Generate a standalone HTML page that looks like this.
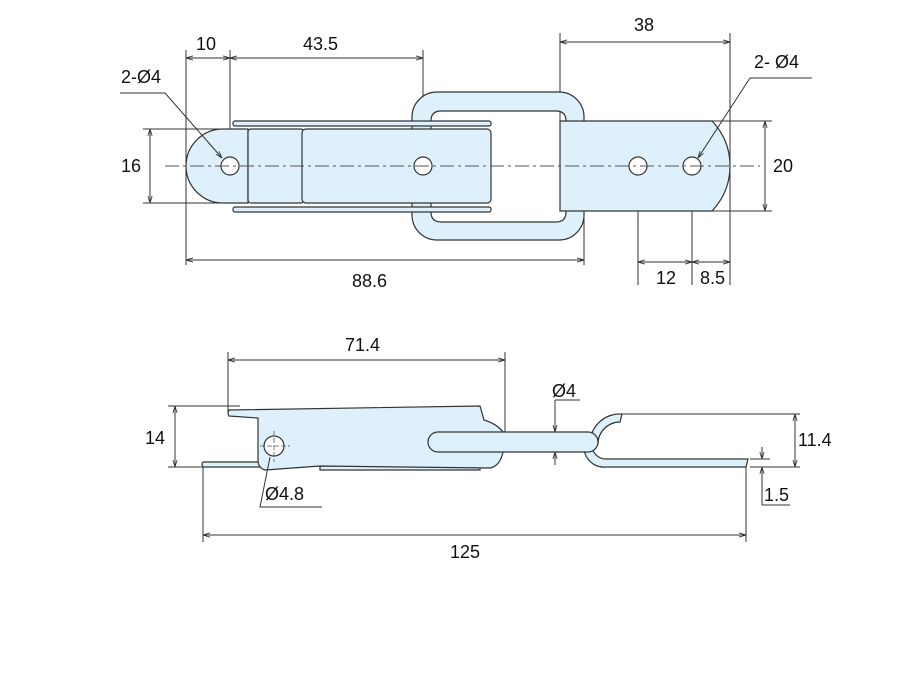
<!DOCTYPE html>
<html><head><meta charset="utf-8"><style>body{margin:0;background:#fff}svg{display:block}text{font-family:"Liberation Sans",sans-serif;font-size:18px;fill:#111}</style></head><body>
<svg width="900" height="673" viewBox="0 0 900 673">
<defs><marker id="a" viewBox="0 0 10 10" refX="10" refY="5" markerWidth="7" markerHeight="7" orient="auto-start-reverse"><path d="M0,2 L10,5 L0,8" fill="none" stroke="#333" stroke-width="1.2"/></marker></defs>
<g stroke="#333" stroke-width="1" fill="none">
<line x1="186" y1="50" x2="186" y2="265"/><line x1="230" y1="50" x2="230" y2="175"/><line x1="423" y1="50" x2="423" y2="175"/>
<line x1="560" y1="33" x2="560" y2="121"/><line x1="730" y1="33" x2="730" y2="285"/>
<line x1="584" y1="210" x2="584" y2="265"/><line x1="638" y1="166" x2="638" y2="285"/><line x1="692" y1="166" x2="692" y2="285"/>
<line x1="143" y1="129" x2="230" y2="129"/><line x1="143" y1="203" x2="230" y2="203"/>
<line x1="712" y1="121" x2="772" y2="121"/><line x1="712" y1="211" x2="772" y2="211"/>
</g>
<g fill="#ddf0fb" stroke="#333" stroke-width="1.2">
<path d="M437,92 H559 A25,25 0 0 1 584,117 V215 A25,25 0 0 1 559,240 H437 A25,25 0 0 1 412,215 V117 A25,25 0 0 1 437,92 Z M441,111 Q431,111 431,121 V212 Q431,222 441,222 H556 Q566,222 566,212 V121 Q566,111 556,111 Z" fill-rule="evenodd"/>
<rect x="233" y="121" width="258" height="5" rx="2"/><rect x="233" y="207" width="258" height="5" rx="2"/>
<path d="M223,129 H248 V203 H223 A37,37 0 0 1 223,129 Z"/>
<rect x="248" y="129" width="56" height="74" rx="3"/>
<rect x="302" y="129" width="189" height="74" rx="4"/>
<path d="M560,121 H712 Q730,140 730,166 Q730,192 712,211 H560 Z"/>
</g>
<g fill="#fff" stroke="#333" stroke-width="1.2"><circle cx="230" cy="166" r="9"/><circle cx="423" cy="166" r="9"/><circle cx="638" cy="166" r="9"/><circle cx="692" cy="166" r="9"/></g>
<line x1="165" y1="166" x2="760" y2="166" stroke="#555" stroke-width="1" stroke-dasharray="14,4,3,4"/>
<g stroke="#333" stroke-width="1" fill="none">
<line x1="186" y1="58" x2="230" y2="58" marker-start="url(#a)" marker-end="url(#a)"/>
<line x1="230" y1="58" x2="423" y2="58" marker-start="url(#a)" marker-end="url(#a)"/>
<line x1="560" y1="42" x2="730" y2="42" marker-start="url(#a)" marker-end="url(#a)"/>
<line x1="150" y1="129" x2="150" y2="203" marker-start="url(#a)" marker-end="url(#a)"/>
<line x1="765" y1="121" x2="765" y2="211" marker-start="url(#a)" marker-end="url(#a)"/>
<line x1="186" y1="260" x2="584" y2="260" marker-start="url(#a)" marker-end="url(#a)"/>
<line x1="638" y1="262" x2="692" y2="262" marker-start="url(#a)" marker-end="url(#a)"/>
<line x1="692" y1="262" x2="730" y2="262" marker-start="url(#a)" marker-end="url(#a)"/>
<polyline points="120,93 165,93 222,158" marker-end="url(#a)"/>
<polyline points="812,78 750,78 698,158" marker-end="url(#a)"/>
</g>
<text x="196" y="50">10</text><text x="303" y="50">43.5</text><text x="634" y="31">38</text>
<text x="121" y="83">2-Ø4</text><text x="754" y="68">2- Ø4</text>
<text x="121" y="172">16</text><text x="773" y="172">20</text>
<text x="352" y="287">88.6</text><text x="656" y="284">12</text><text x="700" y="284">8.5</text>
<g stroke="#333" stroke-width="1" fill="none">
<line x1="228" y1="352" x2="228" y2="412"/><line x1="505" y1="352" x2="505" y2="442"/>
<line x1="168" y1="406" x2="240" y2="406"/><line x1="168" y1="467" x2="205" y2="467"/>
<line x1="203" y1="467" x2="203" y2="542"/><line x1="746" y1="467" x2="746" y2="542"/>
<line x1="620" y1="414" x2="800" y2="414"/><line x1="750" y1="467" x2="800" y2="467"/>
<line x1="555" y1="400" x2="580" y2="400"/>
<line x1="750" y1="459" x2="770" y2="459"/>
</g>
<g fill="#ddf0fb" stroke="#333" stroke-width="1.2">
<path d="M203,462 H265 V467 H203 Q201,464 203,462 Z"/>
<path d="M320,466 H480 V470 H320 Z"/>
<path d="M229,410 L480,406 L484,420 Q497,424 503,432 L503,452 Q500,466 490,468 L320,466 L265,470 Q258,468 258,460 V418 L229,416 Q227,413 229,410 Z"/>
<path d="M590,446 A30,30 0 0 1 622,414 L620,422 A22,22 0 0 0 598,444 Z"/>
<path d="M584,446 A20,20 0 0 0 606,467 H746 L748,459 H606 A14,14 0 0 1 592,446 Z"/>
<rect x="428" y="432" width="170" height="20" rx="10"/>
</g>
<circle cx="274" cy="446" r="10" fill="#fff" stroke="#333" stroke-width="1.2"/>
<g stroke="#555" stroke-width="0.8" stroke-dasharray="5,2"><line x1="260" y1="446" x2="290" y2="446"/><line x1="274" y1="431" x2="274" y2="462"/></g>
<g stroke="#333" stroke-width="1" fill="none">
<line x1="228" y1="360" x2="505" y2="360" marker-start="url(#a)" marker-end="url(#a)"/>
<line x1="175" y1="406" x2="175" y2="467" marker-start="url(#a)" marker-end="url(#a)"/>
<line x1="795" y1="414" x2="795" y2="467" marker-start="url(#a)" marker-end="url(#a)"/>
<line x1="555" y1="400" x2="555" y2="432" marker-end="url(#a)"/><line x1="555" y1="465" x2="555" y2="452" marker-end="url(#a)"/>
<line x1="762" y1="447" x2="762" y2="459" marker-end="url(#a)"/><line x1="762" y1="505" x2="762" y2="467" marker-end="url(#a)"/>
<line x1="762" y1="505" x2="790" y2="505"/>
<line x1="203" y1="535" x2="746" y2="535" marker-start="url(#a)" marker-end="url(#a)"/>
<polyline points="322,507 260,507 270,457" />
</g>
<text x="345" y="351">71.4</text><text x="145" y="444">14</text><text x="552" y="397">Ø4</text>
<text x="798" y="446">11.4</text><text x="764" y="501">1.5</text><text x="265" y="500">Ø4.8</text><text x="450" y="558">125</text>
</svg>
</body></html>
